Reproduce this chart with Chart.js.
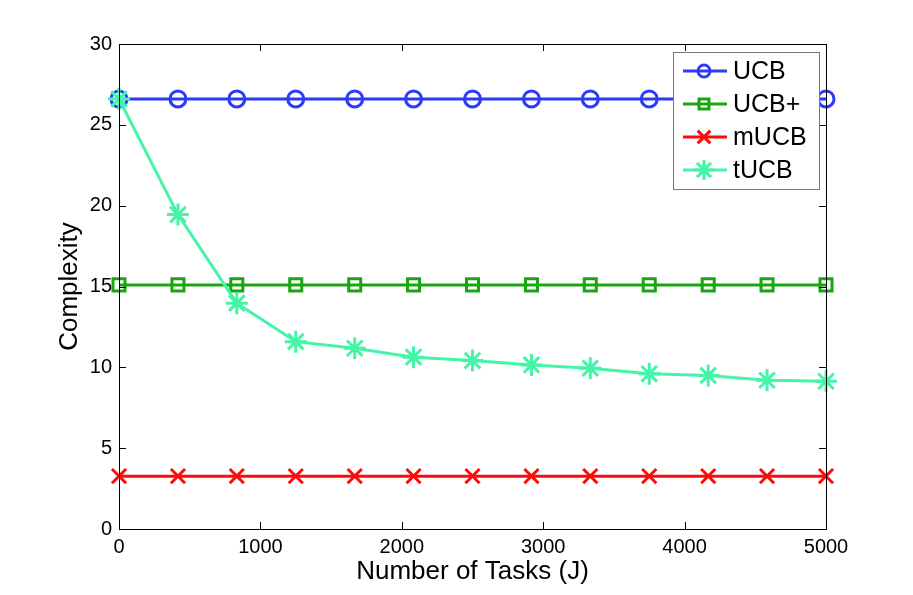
<!DOCTYPE html>
<html lang="en">
<head>
  <meta charset="UTF-8">
  <title>Complexity vs Number of Tasks</title>
  <script src="https://cdn.jsdelivr.net/npm/chart.js"></script>
  <style>
    body {
      margin: 0;
      background: #ffffff;
    }
    #wrap {
      width: 913px;
      height: 595px;
    }
  </style>
</head>
<body>
  <div id="wrap"><canvas id="complexityChart" width="913" height="595"></canvas></div>

  <script>
    // values
    const tasks = [0, 417, 833, 1250, 1667, 2083, 2500, 2917, 3333, 3750, 4167, 4583, 5000];
    const ucb   = [26.6, 26.6, 26.6, 26.6, 26.6, 26.6, 26.6, 26.6, 26.6, 26.6, 26.6, 26.6, 26.6];
    const ucbPlus = [15.1, 15.1, 15.1, 15.1, 15.1, 15.1, 15.1, 15.1, 15.1, 15.1, 15.1, 15.1, 15.1];
    const mucb  = [3.27, 3.27, 3.27, 3.27, 3.27, 3.27, 3.27, 3.27, 3.27, 3.27, 3.27, 3.27, 3.27];
    const tucb  = [26.6, 19.45, 13.97, 11.59, 11.18, 10.63, 10.42, 10.15, 9.95, 9.6, 9.5, 9.2, 9.14];
    const xTicks = [0, 1000, 2000, 3000, 4000, 5000];
    const yTicks = [0, 5, 10, 15, 20, 25, 30];

    const FONT = '"Liberation Sans", Arial, Helvetica, sans-serif';

    function pts(ys) {
      return ys.map((y, i) => ({ x: tasks[i], y: y }));
    }

    const series = [
      { label: 'UCB',   data: ucb,     color: '#2b3bf7', style: 'circle',   radius: 8,  legendRadius: 6, order: 4 },
      { label: 'UCB+',  data: ucbPlus, color: '#1aa512', style: 'rect',     radius: 8.5, legendRadius: 7, order: 3 },
      { label: 'mUCB',  data: mucb,    color: '#ff0a0a', style: 'crossRot', radius: 10, legendRadius: 9, order: 2 },
      { label: 'tUCB',  data: tucb,    color: '#44f5a8', style: 'star',     radius: 11, legendRadius: 10, order: 1 }
    ];

    // matlab style box with inward ticks + legend in the top right corner
    const matlabFrame = {
      id: 'matlabFrame',
      afterDraw(chart) {
        const ctx = chart.ctx;
        const a = chart.chartArea;
        const xs = chart.scales.x, ys = chart.scales.y;
        const len = 7;
        ctx.save();
        ctx.strokeStyle = '#000';
        ctx.lineWidth = 1;
        ctx.beginPath();
        xTicks.forEach(v => {
          const px = Math.round(xs.getPixelForValue(v)) + 0.5;
          ctx.moveTo(px, a.bottom); ctx.lineTo(px, a.bottom - len);
          ctx.moveTo(px, a.top); ctx.lineTo(px, a.top + len);
        });
        yTicks.forEach(v => {
          const py = Math.round(ys.getPixelForValue(v)) + 0.5;
          ctx.moveTo(a.left, py); ctx.lineTo(a.left + len, py);
          ctx.moveTo(a.right, py); ctx.lineTo(a.right - len, py);
        });
        ctx.stroke();
        ctx.strokeRect(Math.round(a.left) + 0.5, Math.round(a.top) + 0.5,
                       Math.round(a.right - a.left), Math.round(a.bottom - a.top));

        // legend
        const bx = 673.5, by = 52.5, bw = 146, bh = 137;
        ctx.fillStyle = '#fff';
        ctx.fillRect(bx, by, bw, bh);
        ctx.strokeStyle = '#777';
        ctx.strokeRect(bx, by, bw, bh);
        const rows = [71, 104, 137, 170];
        ctx.font = '25px ' + FONT;
        ctx.textBaseline = 'middle';
        series.forEach((s, i) => {
          const y = rows[i];
          ctx.strokeStyle = s.color;
          ctx.lineWidth = 3;
          ctx.beginPath();
          ctx.moveTo(683, y); ctx.lineTo(727, y);
          ctx.stroke();
          ctx.fillStyle = 'rgba(0,0,0,0)';
          ctx.lineWidth = 3;
          Chart.helpers.drawPoint(ctx, { pointStyle: s.style, radius: s.legendRadius, borderWidth: 3 }, 704, y);
          ctx.fillStyle = '#000';
          ctx.fillText(s.label, 733, y + 1);
        });
        ctx.restore();
      }
    };

    const ctx = document.getElementById('complexityChart').getContext('2d');
    new Chart(ctx, {
      type: 'line',
      data: {
        datasets: series.map(s => ({
          label: s.label,
          data: pts(s.data),
          borderColor: s.color,
          borderWidth: 3,
          pointStyle: s.style,
          pointRadius: s.radius,
          pointBorderWidth: 3,
          pointBorderColor: s.color,
          pointBackgroundColor: 'rgba(0,0,0,0)',
          fill: false,
          tension: 0,
          order: s.order,
          clip: false
        }))
      },
      options: {
        responsive: false,
        maintainAspectRatio: false,
        animation: false,
        layout: { padding: { left: 0, right: 87, top: 44, bottom: 0 } },
        plugins: {
          legend: { display: false },
          tooltip: { enabled: false }
        },
        scales: {
          x: {
            type: 'linear',
            min: 0,
            max: 5000,
            afterBuildTicks: scale => { scale.ticks = xTicks.map(v => ({ value: v })); },
            afterFit: scale => { scale.height = 66; },
            grid: { display: false, drawTicks: false, tickLength: 0 },
            border: { display: false },
            ticks: {
              color: '#000',
              padding: 6,
              callback: v => String(v),
              font: { family: FONT, size: 20 }
            },
            title: {
              display: true,
              text: 'Number of Tasks (J)',
              color: '#000',
              padding: { top: 0, bottom: 8 },
              font: { family: FONT, size: 26 }
            }
          },
          y: {
            min: 0,
            max: 30,
            afterBuildTicks: scale => { scale.ticks = yTicks.map(v => ({ value: v })); },
            afterFit: scale => { scale.width = 119; },
            grid: { display: false, drawTicks: false, tickLength: 0 },
            border: { display: false },
            ticks: {
              color: '#000',
              padding: 7,
              callback: v => String(v),
              font: { family: FONT, size: 20 }
            },
            title: {
              display: true,
              text: 'Complexity',
              color: '#000',
              padding: { top: 54, bottom: 0 },
              font: { family: FONT, size: 26 }
            }
          }
        }
      },
      plugins: [matlabFrame]
    });
  </script>
</body>
</html>
